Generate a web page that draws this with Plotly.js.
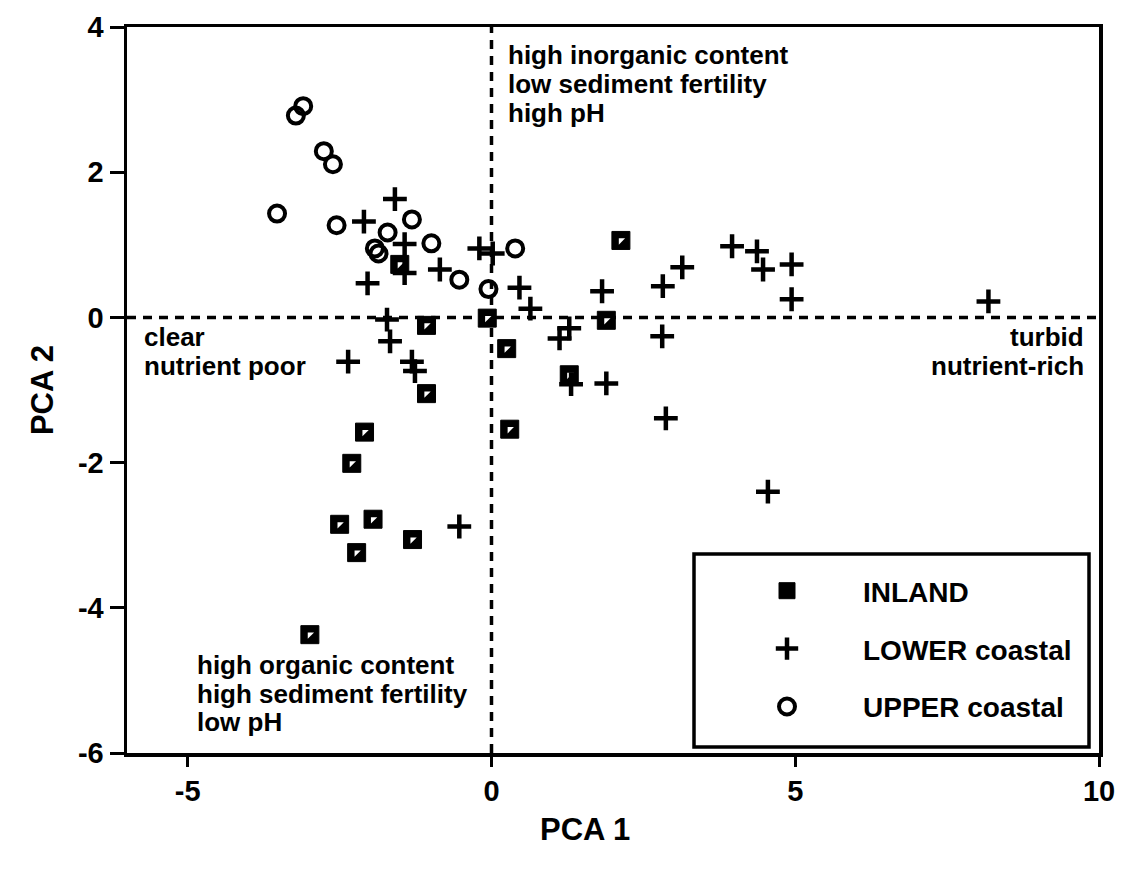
<!DOCTYPE html>
<html>
<head>
<meta charset="utf-8">
<script src="https://cdn.plot.ly/plotly-3.0.1.min.js"></script>
<style>html,body{margin:0;padding:0;background:#fff;}#chart{width:1124px;height:875px;}</style>
</head>
<body>
<div id="chart"></div>
<script>
// INLAND sites
const inlandX = [-1.51, -1.07, -1.07, -2.09, -2.30, -2.50, -1.95, -1.30, -2.22, -2.99, -0.07, 0.25, 0.30, 1.28, 1.89, 2.13];
const inlandY = [0.73, -0.11, -1.05, -1.58, -2.01, -2.85, -2.78, -3.06, -3.24, -4.37, -0.01, -0.43, -1.54, -0.79, -0.04, 1.06];
// LOWER coastal sites
const lowerX = [-1.59, -2.10, -1.43, -1.43, -0.85, -2.04, -0.20, 0.02, 0.46, 0.64, 1.12, 1.28, 1.82, 2.82, 3.14, 3.96, 4.37, 4.47, 4.94, 4.94, 8.18, 2.81, 1.89, 2.87, 1.31, 4.55, -1.72, -1.67, -2.36, -1.31, -1.26, -0.53];
const lowerY = [1.63, 1.32, 1.01, 0.61, 0.66, 0.47, 0.95, 0.88, 0.41, 0.12, -0.29, -0.15, 0.36, 0.43, 0.69, 0.98, 0.91, 0.66, 0.73, 0.25, 0.22, -0.26, -0.91, -1.39, -0.92, -2.40, -0.03, -0.33, -0.61, -0.61, -0.74, -2.88];
// UPPER coastal sites
const upperX = [-3.10, -3.22, -2.76, -2.61, -3.53, -2.55, -1.31, -1.71, -1.86, -1.92, -0.99, -0.53, -0.05, 0.39];
const upperY = [2.91, 2.78, 2.29, 2.11, 1.43, 1.27, 1.35, 1.17, 0.88, 0.95, 1.02, 0.52, 0.39, 0.95];

const seriesNames = ["INLAND", "LOWER coastal", "UPPER coastal"];
const xTickVals = [-5, 0, 5, 10];
const xTickText = ["-5", "0", "5", "10"];
const yTickVals = [-6, -4, -2, 0, 2, 4];
const yTickText = ["-6", "-4", "-2", "0", "2", "4"];
const xTitle = "PCA 1";
const yTitle = "PCA 2";

// quadrant descriptions, one entry per text line
const noteLines = [
  "high inorganic content", "low sediment fertility", "high pH",
  "clear", "nutrient poor",
  "turbid", "nutrient-rich",
  "high organic content", "high sediment fertility", "low pH"
];

const FONT = "Liberation Sans, Arial, sans-serif";

const traces = [
  {
    type: "scatter", mode: "markers", name: seriesNames[0], x: inlandX, y: inlandY,
    legendgroup: "a",
    marker: {symbol: "square", size: 18, color: "#000", line: {width: 1, color: "#000"}}
  },
  {
    type: "scatter", mode: "markers", showlegend: false, hoverinfo: "skip", x: inlandX, y: inlandY,
    marker: {symbol: "triangle-nw", size: 7, color: "#fff", line: {width: 0}}
  },
  {
    type: "scatter", mode: "markers", name: seriesNames[1], x: lowerX, y: lowerY,
    legendgroup: "b",
    marker: {symbol: "cross-thin", size: 17, color: "#000", line: {width: 4.5, color: "#000"}}
  },
  {
    type: "scatter", mode: "markers", name: seriesNames[2], x: upperX, y: upperY,
    legendgroup: "c",
    marker: {symbol: "circle-open", size: 16, color: "#000", line: {width: 4, color: "#000"}}
  }
];

const annFont = {family: FONT, size: 26, color: "#000", weight: "bold"};
const titleFont = {family: FONT, size: 31, color: "#000", weight: "bold"};

// pixel helpers for placement of the description lines (paper space)
const PL = 127, PT = 27, PW = 972, PH = 726;
function px(xp) { return (xp - PL) / PW; }
function py(yp) { return 1 - (yp - PT) / PH; }

function note(i, xp, yp, anchor) {
  return {xref: "paper", yref: "paper", x: px(xp), y: py(yp), xanchor: anchor, yanchor: "middle",
          align: anchor, showarrow: false, text: noteLines[i], font: annFont};
}

const layout = {
  width: 1124, height: 875,
  margin: {l: PL, r: 25, t: PT, b: 122},
  paper_bgcolor: "#fff", plot_bgcolor: "#fff",
  showlegend: true,
  xaxis: {
    range: [-6, 10], tickvals: xTickVals, ticktext: xTickText,
    showgrid: false, zeroline: false,
    showline: true, linewidth: 3.5, linecolor: "#000", mirror: true,
    ticks: "outside", ticklen: 10, tickwidth: 3, tickcolor: "#000",
    tickfont: {family: FONT, size: 29, color: "#000", weight: "bold"}
  },
  yaxis: {
    range: [-6, 4], tickvals: yTickVals, ticktext: yTickText,
    showgrid: false, zeroline: false,
    showline: true, linewidth: 3.5, linecolor: "#000", mirror: true,
    ticks: "outside", ticklen: 14, tickwidth: 3, tickcolor: "#000",
    tickfont: {family: FONT, size: 29, color: "#000", weight: "bold"},
    title: {text: yTitle, standoff: 16, font: titleFont}
  },
  shapes: [
    {type: "line", xref: "x", yref: "y", x0: -6, x1: 10, y0: 0, y1: 0, layer: "below",
     line: {color: "#000", width: 3.5, dash: "9px,7px"}},
    {type: "line", xref: "x", yref: "y", x0: 0, x1: 0, y0: -6, y1: 4, layer: "below",
     line: {color: "#000", width: 3.5, dash: "9px,7px"}},
    {type: "rect", xref: "paper", yref: "paper", x0: px(694), x1: px(1089), y0: py(554), y1: py(747),
     layer: "below", fillcolor: "#fff", line: {color: "#000", width: 3.5}}
  ],
  annotations: [
    note(0, 506, 55, "left"), note(1, 506, 84, "left"), note(2, 506, 113, "left"),
    note(3, 142, 337, "left"), note(4, 142, 366, "left"),
    note(5, 1086, 337, "right"), note(6, 1086, 366, "right"),
    note(7, 195, 665, "left"), note(8, 195, 694, "left"), note(9, 195, 722, "left"),
    {xref: "paper", yref: "paper", x: px(585), y: py(830), xanchor: "center", yanchor: "middle",
     showarrow: false, text: xTitle, font: titleFont}
  ],
  legend: {
    x: px(711), y: py(566), xanchor: "left", yanchor: "top",
    bgcolor: "rgba(0,0,0,0)", borderwidth: 0,
    font: {family: FONT, size: 28, color: "#000", weight: "bold"},
    traceorder: "grouped", tracegroupgap: 18.5,
    itemwidth: 142,
    itemclick: false, itemdoubleclick: false
  }
};

Plotly.newPlot("chart", traces, layout, {displayModeBar: false, staticPlot: true});
</script>
</body>
</html>
